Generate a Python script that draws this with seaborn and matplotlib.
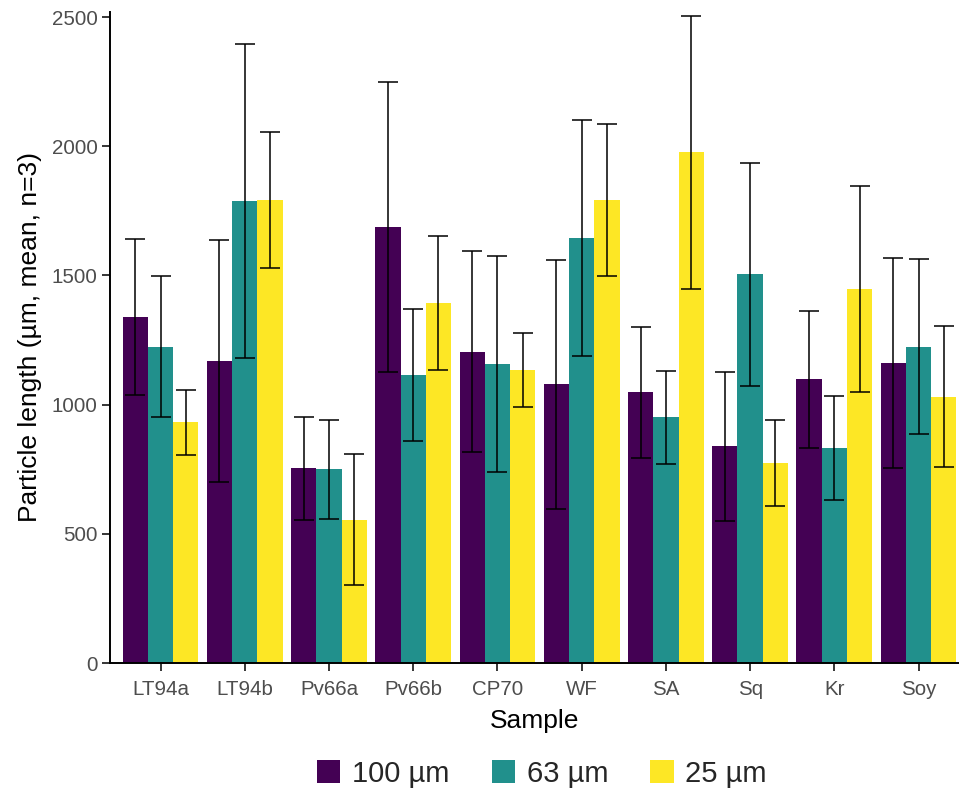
import numpy as np
import pandas as pd
import matplotlib
matplotlib.use("Agg")
import matplotlib.pyplot as plt
import seaborn as sns

samples = ["LT94a", "LT94b", "Pv66a", "Pv66b", "CP70", "WF", "SA", "Sq", "Kr", "Soy"]
sizes = ["100 µm", "63 µm", "25 µm"]
mean_100 = [1340, 1169, 754, 1688, 1204, 1078, 1047, 839, 1098, 1162]
mean_63 = [1224, 1787, 749, 1115, 1157, 1644, 951, 1504, 832, 1224]
mean_25 = [931, 1792, 554, 1393, 1135, 1792, 1976, 774, 1447, 1031]
sd_100 = [301, 467, 199, 562, 389, 483, 255, 288, 265, 406]
sd_63 = [272, 608, 190, 254, 419, 456, 179, 433, 203, 338]
sd_25 = [126, 263, 254, 260, 144, 293, 527, 168, 399, 273]
colors = ["#440154", "#21908C", "#FDE725"]

sns.set_theme(style="ticks")
plt.rcParams['font.family'] = ['Liberation Sans', 'DejaVu Sans']

rows = []
for s, means, sds in zip(sizes, [mean_100, mean_63, mean_25], [sd_100, sd_63, sd_25]):
    for smp, m, sd in zip(samples, means, sds):
        rows.append({"Sample": smp, "Size": s, "mean": m, "sd": sd})
df = pd.DataFrame(rows)

fig = plt.figure(figsize=(9.59, 7.91), dpi=100)
ax = fig.add_axes([0.1147, 0.1618, 0.8853, 0.8232])

sns.barplot(data=df, x="Sample", y="mean", hue="Size", order=samples, hue_order=sizes,
            palette=colors, errorbar=None, width=0.9, saturation=1, ax=ax, linewidth=0)

# error bars at the bar centres computed by seaborn
for container, s in zip(ax.containers, sizes):
    sub = df[df["Size"] == s].set_index("Sample").loc[samples]
    xs = [p.get_x() + p.get_width() / 2 for p in container.patches]
    hs = [p.get_height() for p in container.patches]
    ax.errorbar(xs, hs, yerr=sub["sd"].values, fmt="none", ecolor="black",
                elinewidth=1.1, capsize=7, capthick=1.1, zorder=5)

ax.set_xlim(-0.6, 9.48)
ax.set_ylim(0, 2520)
ax.set_yticks([0, 500, 1000, 1500, 2000, 2500])
ax.tick_params(axis="both", labelsize=14.8, labelcolor="#4D4D4D", color="black",
               length=5.5, width=1.1)
ax.tick_params(axis="x", pad=7)
ax.tick_params(axis="y", pad=3.5)
sns.despine(ax=ax)
for sp in ["left", "bottom"]:
    ax.spines[sp].set_linewidth(1.4)
    ax.spines[sp].set_color("black")
ax.set_xlabel("Sample", fontsize=19, color="black", labelpad=7)
ax.set_ylabel("Particle length (µm, mean, n=3)", fontsize=19, color="black", labelpad=7)

handles, labels = ax.get_legend_handles_labels()
ax.legend_.remove()
fig.legend(handles, labels, loc="center", bbox_to_anchor=(0.565, 0.022), ncol=3,
           frameon=False, fontsize=21, handlelength=0.8, handleheight=0.8,
           columnspacing=1.45, handletextpad=0.4)

fig.savefig("out.png", dpi=100)
